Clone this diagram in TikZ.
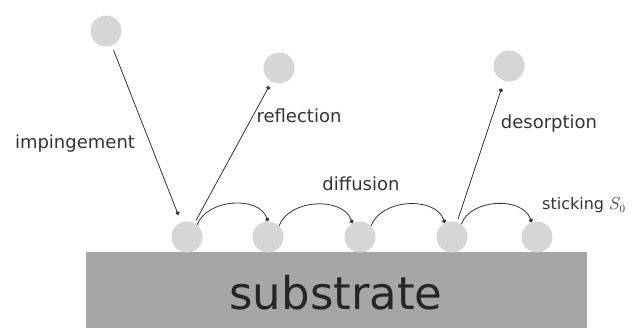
\documentclass[tikz,border=0pt]{standalone}
\usepackage{fontspec}
\setmainfont{DejaVu Sans}
\usetikzlibrary{arrows.meta}
\definecolor{atomgray}{HTML}{D6D6D6}
\definecolor{subgray}{HTML}{A6A6A6}
\definecolor{inkgray}{HTML}{333333}
\begin{document}
\begin{tikzpicture}[x=1pt, y=-1pt,
    atom/.style={circle, fill=atomgray, minimum size=31pt, inner sep=0pt},
    lbl/.style={text=inkgray, font=\fontsize{18}{20}\selectfont, inner sep=0pt},
    path/.style={draw=inkgray, line width=0.8pt, -{Circle[length=4pt]}}]
   \useasboundingbox (0,0) rectangle (632,327);
   % substrate
   \node (sub) [fill=subgray, minimum width=501pt, minimum height=80pt, inner sep=0pt, anchor=north west] at (86,252) {};
   \node [anchor=base, text=black!85, font=\fontsize{45}{50}\selectfont, inner sep=0pt] at (336,309) {substrate};
   % atoms
   \node (a0) [atom] at (106,31) {};
   \node (a1) [atom] at (279,68) {};
   \node (a2) [atom] at (509,66) {};
   \node (s1) [atom] at (187,237) {};
   \node (s2) [atom] at (268,237) {};
   \node (s3) [atom] at (360,237) {};
   \node (s4) [atom] at (452,237) {};
   \node (s5) [atom] at (537,237) {};
   % processes
   \draw[path, shorten <=5pt, shorten >=8pt] (a0) -- (s1);
   \draw[path, shorten <=3pt, shorten >=5pt] (s1) -- (a1);
   \draw[path, shorten <=3pt, shorten >=8pt] (s4) -- (a2);
   \draw[path] (s1.50) to[out=70, in=110] (s2.90);
   \draw[path] (s2.45) to[out=70, in=110] (s3.119);
   \draw[path] (s3.45) to[out=70, in=110] (s4.117);
   \draw[path] (s4.54) to[out=70, in=110] (s5.110);
   % labels
   \node (limp) [lbl] at (75,144) {impingement};
   \node (lref) [lbl] at (299,116) {reflection};
   \node (ldif) [lbl] at (361,184) {diffusion};
   \node (ldes) [lbl] at (549,124) {desorption};
   \node (lsti) [lbl, anchor=west, font=\fontsize{16}{18}\selectfont] at (542,205) {sticking $S_0$};
\end{tikzpicture}
\end{document}
